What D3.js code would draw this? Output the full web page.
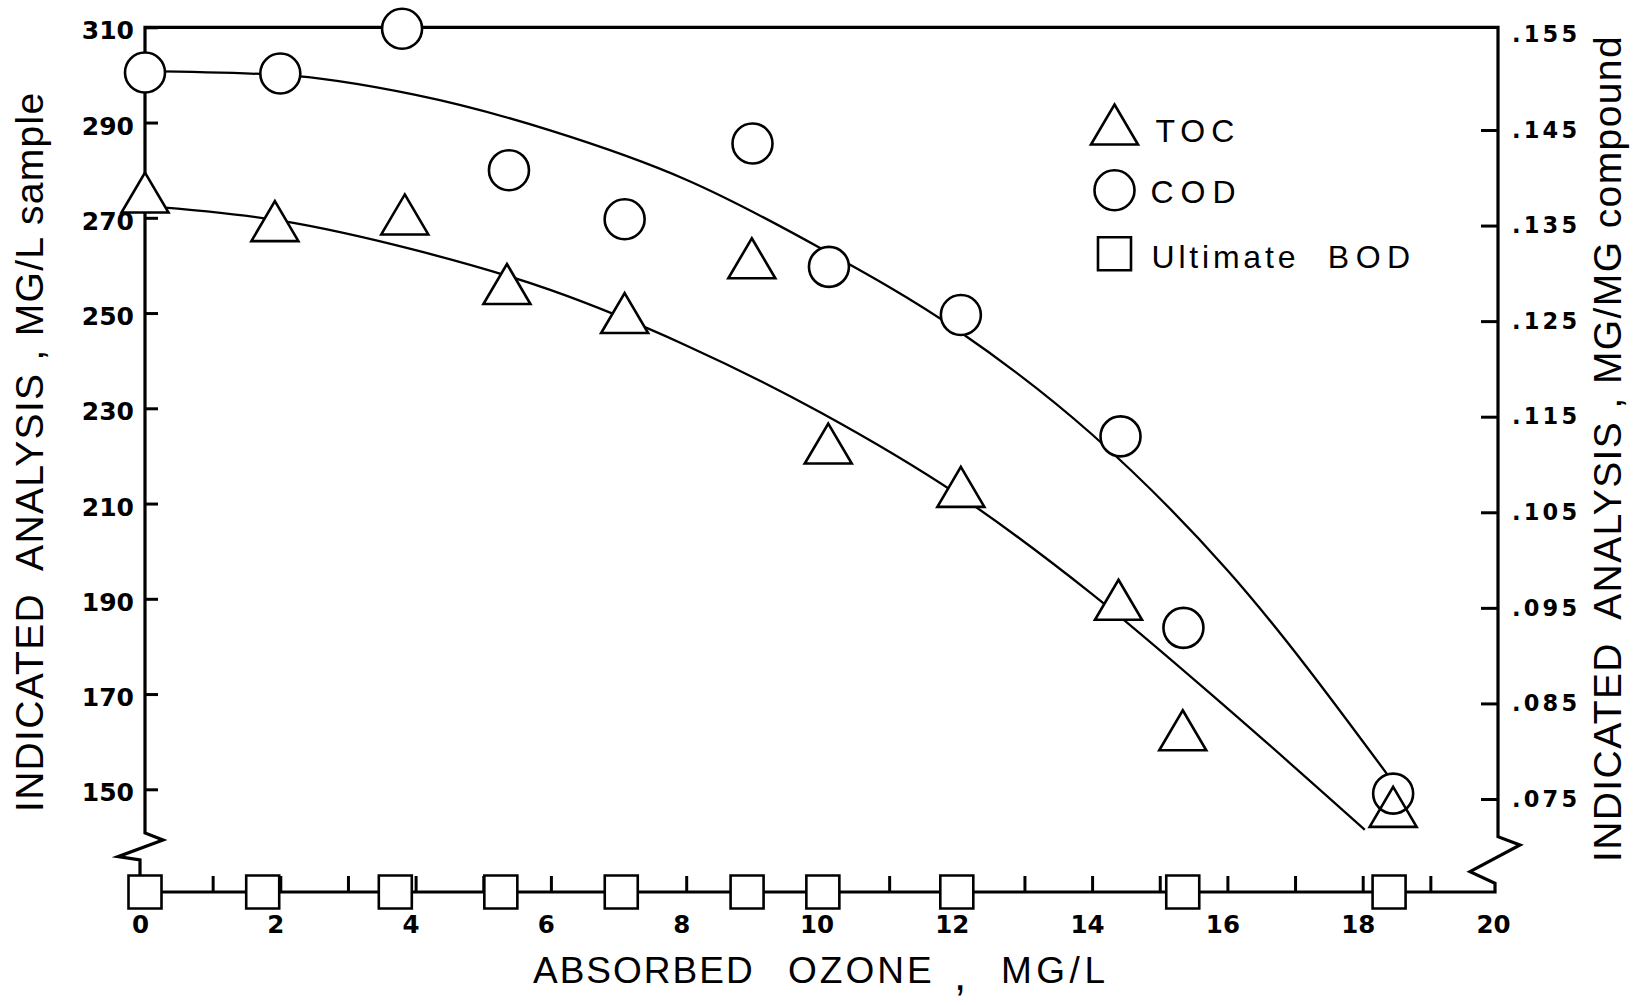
<!DOCTYPE html>
<html><head><meta charset="utf-8">
<script src="https://cdn.jsdelivr.net/npm/d3@7"></script>
<style>
html,body{margin:0;padding:0;background:#fff;}
svg{display:block;}
text{fill:#000;}
</style></head>
<body>
<svg id="chart" width="1648" height="1005"></svg>
<script>
// ---------------- DATA ----------------
const tocX = [0, 1.92, 3.84, 5.35, 7.09, 8.97, 10.10, 12.06, 14.39, 15.34, 18.45];
const tocY = [275.3, 269.3, 270.7, 256.1, 250.0, 261.5, 222.6, 213.5, 189.8, 162.4, 146.3];
const codX = [0, 2.00, 3.80, 5.38, 7.09, 8.98, 10.11, 12.06, 14.42, 15.35, 18.45];
const codY = [300.5, 300.3, 309.7, 280.0, 269.7, 285.6, 259.7, 249.6, 224.1, 183.9, 149.1];
const bodX = [0, 1.74, 3.70, 5.26, 7.04, 8.90, 10.02, 12.00, 15.34, 18.39];
const bodY = [0, 0, 0, 0, 0, 0, 0, 0, 0, 0];
// hand-drawn fitted curves
const tocFitX = [0, 2, 4, 6, 8, 10, 12, 14, 16, 18.03];
const tocFitY = [272.5, 269.4, 263.2, 254.8, 243.2, 229.0, 212.0, 191.0, 167.0, 141.5];
const codFitX = [0, 2, 4, 6, 8, 10, 12, 14, 16, 18.36];
const codFitY = [300.8, 300.0, 295.8, 288.3, 278.0, 263.5, 246.5, 224.5, 196.0, 153.2];
// ticks
const xTickValues = [0,1,2,3,4,5,6,7,8,9,10,11,12,13,14,15,16,17,18,19,20];
const xTickLabels = ["0","","2","","4","","6","","8","","10","","12","","14","","16","","18","","20"];
const leftTicks = [150, 170, 190, 210, 230, 250, 270, 290, 310];
const leftTickLabels = ["150","170","190","210","230","250","270","290","310"];
const rightTicks = [0.075, 0.085, 0.095, 0.105, 0.115, 0.125, 0.135, 0.145, 0.155];
const rightTickLabels = [".075",".085",".095",".105",".115",".125",".135",".145",".155"];
const legendLabels = ["TOC", "COD", "Ultimate BOD"];
const xTitleParts = ["ABSORBED", "OZONE", ",", "MG/L"];
const yLeftTitle = "INDICATED ANALYSIS , MG/L sample";
const yRightTitle = "INDICATED ANALYSIS , MG/MG compound";

// ---------------- SCALES ----------------
const svg = d3.select("#chart");
const x = d3.scaleLinear().domain([0, 20]).range([145, 1498]);
const yL = d3.scaleLinear().domain([150, 310]).range([789.3, 27.3]);
const yR = d3.scaleLinear().domain([0.075, 0.155]).range([799, 34.4]);
const yB = d3.scaleLinear().domain([-1, 1]).range([908, 876]); // BOD band on the broken base line

const X0 = x(0), X1 = x(20), YT = yL(310), YA = yB(0);
const INK = "#000";

// ---------------- FRAME with axis breaks ----------------
svg.append("path")
  .attr("d", `M${X0-5},${YA} V860 L${X0-27},856.7 L${X0+18},840 L${X0},833 V${YT} H${X1} V836.7 L${X1+22},845 L${X1-28},871.7 L${X1-3},883.3 V${YA} Z`)
  .attr("fill", "none").attr("stroke", INK).attr("stroke-width", 3.2)
  .attr("stroke-linejoin", "miter").attr("stroke-miterlimit", 10);

// ---------------- AXES ----------------
const tickFont = "'DejaVu Sans', Verdana, sans-serif";

const gL = svg.append("g").attr("transform", `translate(${X0},0)`)
  .call(d3.axisLeft(yL).tickValues(leftTicks).tickSize(-13).tickPadding(11)
    .tickFormat(d => leftTickLabels[leftTicks.indexOf(d)]));
gL.select(".domain").remove();
gL.selectAll(".tick line").attr("stroke", INK).attr("stroke-width", 3);
gL.selectAll(".tick text").attr("font-family", tickFont).attr("font-weight", "bold")
  .attr("font-size", 25).attr("dy", "0.46em").attr("fill", INK);

const gR = svg.append("g").attr("transform", `translate(${X1},0)`)
  .call(d3.axisRight(yR).tickValues(rightTicks).tickSize(-17).tickPadding(14)
    .tickFormat(d => rightTickLabels[rightTicks.indexOf(d)]));
gR.select(".domain").remove();
gR.selectAll(".tick line").attr("stroke", INK).attr("stroke-width", 3)
  .attr("display", d => d === 0.155 ? "none" : null);
gR.selectAll(".tick text").attr("font-family", tickFont).attr("font-weight", "bold")
  .attr("font-size", 22.5).attr("letter-spacing", "3.2px").attr("fill", INK);

const gB = svg.append("g").attr("transform", `translate(0,${YA})`)
  .call(d3.axisBottom(x).tickValues(xTickValues).tickSize(-16).tickPadding(24)
    .tickFormat(d => xTickLabels[xTickValues.indexOf(d)]));
gB.select(".domain").remove();
gB.selectAll(".tick line").attr("stroke", INK).attr("stroke-width", 3)
  .attr("display", d => (d === 0 || d === 20) ? "none" : null);
gB.selectAll(".tick text").attr("font-family", tickFont).attr("font-weight", "bold")
  .attr("font-size", 24.5).attr("x", -5).attr("fill", INK);

// ---------------- FITTED CURVES ----------------
const line = d3.line().x(d => x(d[0])).y(d => yL(d[1])).curve(d3.curveMonotoneX);
const tocFit = tocFitX.map((v, i) => [v, tocFitY[i]]);
const codFit = codFitX.map((v, i) => [v, codFitY[i]]);
svg.append("path").attr("d", line(tocFit)).attr("fill", "none").attr("stroke", INK).attr("stroke-width", 2.3);
svg.append("path").attr("d", line(codFit)).attr("fill", "none").attr("stroke", INK).attr("stroke-width", 2.3);

// ---------------- MARKERS ----------------
const TW = 23.5, TH = 20, CR = 20, SQ = 16.5;
const triPath = (cx, cy) => `M${cx},${cy-TH} L${cx+TW},${cy+TH} L${cx-TW},${cy+TH} Z`;
const sqPath = (cx, cy) => `M${cx-SQ},${cy-SQ} H${cx+SQ} V${cy+SQ} H${cx-SQ} Z`;

const tocPts = tocX.map((v, i) => [x(v), yL(tocY[i])]);
const codPts = codX.map((v, i) => [x(v), yL(codY[i])]);
const bodPts = bodX.map((v, i) => [x(v), yB(bodY[i])]);

// legend geometry
const legX = 1114.5;
const legMarks = [
  {kind: "tri", cx: legX, cy: 124.5},
  {kind: "cir", cx: legX, cy: 190.3},
  {kind: "sq",  cx: legX, cy: 253.7}
];

function drawMarkers(layer, fill, stroke, sw) {
  layer.selectAll(null).data(codPts).join("circle")
    .attr("cx", d => d[0]).attr("cy", d => d[1]).attr("r", CR)
    .attr("fill", fill).attr("stroke", stroke).attr("stroke-width", sw);
  layer.selectAll(null).data(tocPts).join("path")
    .attr("d", d => triPath(d[0], d[1]))
    .attr("fill", fill).attr("stroke", stroke).attr("stroke-width", sw).attr("stroke-linejoin", "miter");
  layer.selectAll(null).data(bodPts).join("path")
    .attr("d", d => sqPath(d[0], d[1]))
    .attr("fill", fill).attr("stroke", stroke).attr("stroke-width", sw);
  legMarks.forEach(m => {
    if (m.kind === "cir") layer.append("circle").attr("cx", m.cx).attr("cy", m.cy).attr("r", CR)
      .attr("fill", fill).attr("stroke", stroke).attr("stroke-width", sw);
    else layer.append("path").attr("d", m.kind === "tri" ? triPath(m.cx, m.cy) : sqPath(m.cx, m.cy))
      .attr("fill", fill).attr("stroke", stroke).attr("stroke-width", sw);
  });
}
drawMarkers(svg.append("g"), "#fff", "none", 0);
drawMarkers(svg.append("g"), "none", INK, 2.6);

// ---------------- LEGEND TEXT ----------------
const legFont = "'Liberation Sans', Arial, Helvetica, sans-serif";
const leg = svg.append("g").attr("font-family", legFont).attr("font-size", 32);
leg.append("text").attr("x", 1155.4).attr("y", 141.7).attr("letter-spacing", "6px").text(legendLabels[0]);
leg.append("text").attr("x", 1150.4).attr("y", 203.3).attr("letter-spacing", "7px").text(legendLabels[1]);
const lt = leg.append("text").attr("x", 1151.5).attr("y", 268.3);
const parts = legendLabels[2].split(" ");
lt.append("tspan").attr("letter-spacing", "3.8px").text(parts[0]);
lt.append("tspan").attr("x", 1327.8).attr("letter-spacing", "6.5px").text(parts[1]);

// ---------------- AXIS TITLES ----------------
const titleFont = "'Liberation Sans', Arial, Helvetica, sans-serif";
const xt = svg.append("text").attr("y", 983)
  .attr("font-family", titleFont).attr("font-size", 37);
xt.append("tspan").attr("x", 533).attr("letter-spacing", "2px").text(xTitleParts[0]);
xt.append("tspan").attr("x", 788).attr("letter-spacing", "3px").text(xTitleParts[1]);
xt.append("tspan").attr("x", 954).attr("dy", 7).attr("font-size", 44).text(xTitleParts[2]);
xt.append("tspan").attr("x", 1001).attr("dy", -7).attr("letter-spacing", "4.5px").text(xTitleParts[3]);

svg.append("text")
  .attr("transform", "translate(43,812) rotate(-90)")
  .attr("font-family", titleFont).attr("font-size", 39).attr("letter-spacing", "1.3px")
  .style("white-space", "pre")
  .text(yLeftTitle.replace("INDICATED ", "INDICATED  "));

svg.append("text")
  .attr("transform", "translate(1621,862) rotate(-90)")
  .attr("font-family", titleFont).attr("font-size", 39).attr("letter-spacing", "1.4px")
  .style("white-space", "pre")
  .text(yRightTitle.replace("INDICATED ", "INDICATED  "));
</script>
</body></html>
